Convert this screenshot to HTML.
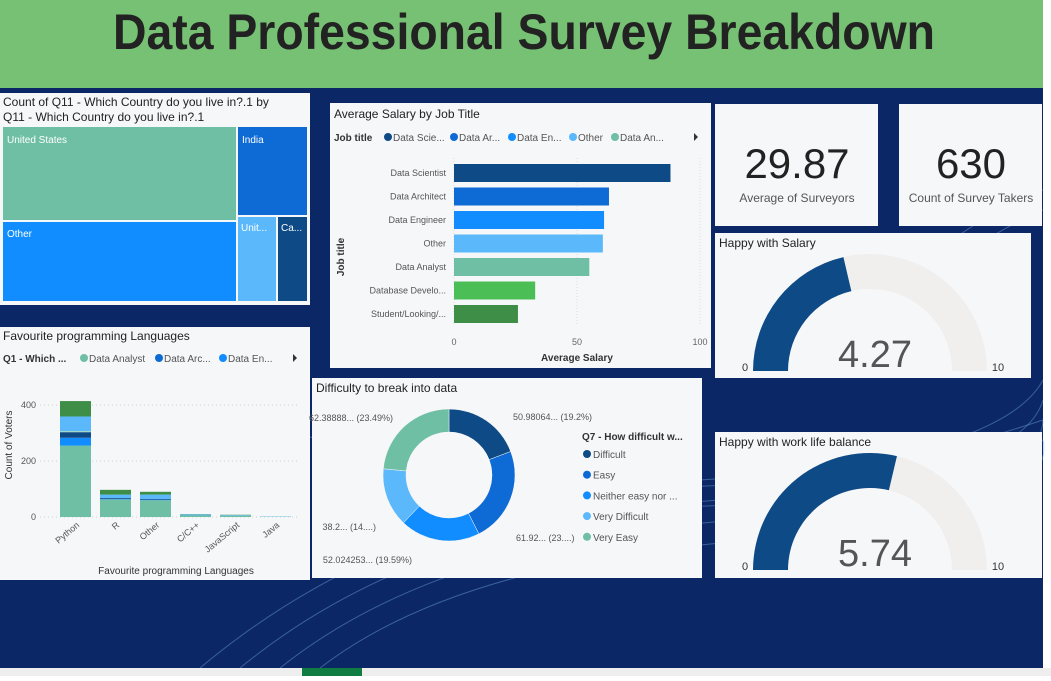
<!DOCTYPE html>
<html><head><meta charset="utf-8"><style>
body{margin:0;width:1051px;height:676px;background:#fff;overflow:hidden;font-family:"Liberation Sans",sans-serif}
</style></head><body>
<svg width="1051" height="676" viewBox="0 0 1051 676" xmlns="http://www.w3.org/2000/svg" font-family="Liberation Sans, sans-serif">
<rect x="0" y="0" width="1043" height="668" fill="#0c2766"/>
<g fill="none" stroke="#6fa8e0" stroke-opacity="0.45" stroke-width="1">
<path d="M0 330 Q300 420 520 470 T1043 420"/><path d="M0 345 Q300 440 520 490 T1043 440"/>
<path d="M200 668 Q400 500 700 480 T1043 380"/><path d="M240 668 Q420 520 720 500 T1043 400"/>
<path d="M280 668 Q440 540 740 520 T1043 420"/><path d="M320 668 Q460 560 760 540 T1043 440"/>
<path d="M860 320 Q960 220 1043 190"/><path d="M870 330 Q970 240 1043 210"/>
</g>
<rect x="0" y="668" width="1051" height="8" fill="#eee"/>
<rect x="302" y="668" width="60" height="8" fill="#107c41"/>
<rect x="0" y="0" width="1043" height="88" fill="#77c174"/>
<text x="113" y="49" textLength="822" lengthAdjust="spacingAndGlyphs" font-size="50" font-weight="bold" fill="#222">Data Professional Survey Breakdown</text>

<!-- Treemap -->
<g>
<rect x="0" y="93" width="310" height="212" fill="#f6f7f9"/>
<text x="3" y="106" font-size="12" fill="#222"><tspan x="3">Count of Q11 - Which Country do you live in?.1 by</tspan><tspan x="3" dy="15">Q11 - Which Country do you live in?.1</tspan></text>
<rect x="3" y="127" width="233" height="93" fill="#6fbfa5"/>
<rect x="3" y="222" width="233" height="79" fill="#118dff"/>
<rect x="238" y="127" width="69" height="88" fill="#0e6ad4"/>
<rect x="238" y="217" width="38" height="84" fill="#5ab8fb"/>
<rect x="278" y="217" width="29" height="84" fill="#0e4a86"/>
<g font-size="10" fill="#fff"><text x="7" y="143">United States</text><text x="7" y="237">Other</text><text x="242" y="143">India</text><text x="241" y="231">Unit...</text><text x="281" y="231">Ca...</text></g>
</g>

<!-- Bar chart -->
<g>
<rect x="330" y="103" width="381" height="265" fill="#f6f7f9"/>
<text x="334" y="118" font-size="12" fill="#222">Average Salary by Job Title</text>
<text x="334" y="141" font-size="10" font-weight="bold" fill="#333">Job title</text>
<g font-size="10" fill="#555">
<circle cx="388" cy="137" r="4" fill="#0e4a86"/><text x="393" y="141">Data Scie...</text>
<circle cx="454" cy="137" r="4" fill="#0e6ad4"/><text x="459" y="141">Data Ar...</text>
<circle cx="512" cy="137" r="4" fill="#118dff"/><text x="517" y="141">Data En...</text>
<circle cx="573" cy="137" r="4" fill="#5ab8fb"/><text x="578" y="141">Other</text>
<circle cx="615" cy="137" r="4" fill="#6fbfa5"/><text x="620" y="141">Data An...</text>
<path d="M694 133 l4 4 -4 4z" fill="#333"/></g>
<text transform="translate(344,257) rotate(-90)" font-size="10" font-weight="bold" fill="#333" text-anchor="middle">Job title</text>
<text x="577" y="361" font-size="10" font-weight="bold" fill="#333" text-anchor="middle">Average Salary</text>
<g id="barg"></g>
</g>

<!-- KPIs -->
<rect x="715" y="104" width="163" height="122" fill="#f6f7f9"/>
<text x="797" y="178" font-size="42" fill="#222" text-anchor="middle">29.87</text>
<text x="797" y="202" font-size="12" fill="#555" text-anchor="middle">Average of Surveyors</text>
<rect x="899" y="104" width="143" height="122" fill="#f6f7f9"/>
<text x="971" y="178" font-size="42" fill="#222" text-anchor="middle">630</text>
<text x="971" y="202" font-size="12" fill="#555" text-anchor="middle">Count of Survey Takers</text>

<!-- Gauges -->
<rect x="715" y="233" width="316" height="145" fill="#f6f7f9"/>
<text x="719" y="247" font-size="12" fill="#222">Happy with Salary</text>
<g id="g1"></g>
<rect x="715" y="432" width="327" height="146" fill="#f6f7f9"/>
<text x="719" y="446" font-size="12" fill="#222">Happy with work life balance</text>
<g id="g2"></g>

<!-- Column chart -->
<g>
<rect x="0" y="327" width="310" height="253" fill="#f6f7f9"/>
<text x="3" y="340" font-size="12" fill="#222">Favourite programming Languages</text>
<g font-size="10" fill="#555">
<text x="3" y="362" font-weight="bold" fill="#333">Q1 - Which ...</text>
<circle cx="84" cy="358" r="4" fill="#6fbfa5"/><text x="89" y="362">Data Analyst</text>
<circle cx="159" cy="358" r="4" fill="#0e6ad4"/><text x="164" y="362">Data Arc...</text>
<circle cx="223" cy="358" r="4" fill="#118dff"/><text x="228" y="362">Data En...</text>
<path d="M293 354 l4 4 -4 4z" fill="#333"/></g>
<text transform="translate(12,445) rotate(-90)" font-size="10" fill="#333" text-anchor="middle">Count of Voters</text>
<text x="176" y="574" font-size="10" fill="#333" text-anchor="middle">Favourite programming Languages</text>
<g id="colg"></g>
</g>

<!-- Donut -->
<g>
<rect x="312" y="378" width="390" height="200" fill="#f6f7f9"/>
<text x="316" y="392" font-size="12" fill="#222">Difficulty to break into data</text>
<text x="582" y="440" font-size="10" font-weight="bold" fill="#333">Q7 - How difficult w...</text>
<g id="dong"></g>
</g>
</svg>
<script>
const NS="http://www.w3.org/2000/svg";
function mk(p,t,a){const e=document.createElementNS(NS,t);for(const k in a)e.setAttribute(k,a[k]);p.appendChild(e);return e;}
// Salary bar data
const jobTitles=["Data Scientist","Data Architect","Data Engineer","Other","Data Analyst","Database Develo...","Student/Looking/..."];
const salaryValues=[88,63,61,60.5,55,33,26];
const jobColors=["#0e4a86","#0e6ad4","#118dff","#5ab8fb","#6fbfa5","#4bbf55","#3e8e47"];
const salaryTicks=[0,50,100];
// Language data
const languages=["Python","R","Other","C/C++","JavaScript","Java"];
const langSeries=["Data Analyst","Data Engineer","Data Architect","Other","Data Scientist","Student"];
const langColors=["#6fbfa5","#118dff","#0e4a86","#a0d8c6","#5ab8fb","#3e8e47"];
const langValues=[[255,63,60,6,5,1],[28,2,2,1,1,0],[20,3,3,0,0,0],[4,0,0,0,0,0],[52,12,15,2,1,1],[55,17,10,1,1,0]];
const countTicks=[0,200,400];
// Donut data
const diffLabels=["Difficult","Easy","Neither easy nor ...","Very Difficult","Very Easy"];
const diffValues=[50.98,61.92,52.02,38.2,62.39];
const diffText=["50.98064... (19.2%)","61.92... (23....)","52.024253... (19.59%)","38.2... (14....)","62.38888... (23.49%)"];
const diffColors=["#0e4a86","#0e6ad4","#118dff","#5ab8fb","#6fbfa5"];
// Gauges
const gaugeValues=[4.27,5.74];
const gaugeMax=10;

// Bar chart
(function(){const g=document.getElementById('barg');
const x=v=>454+v*2.46, y=i=>173+i*23.5;
salaryTicks.forEach(t=>{mk(g,'line',{x1:x(t),x2:x(t),y1:158,y2:326,stroke:'#ddd','stroke-dasharray':'1,2'});
const tx=mk(g,'text',{x:x(t),y:345,'font-size':9,fill:'#666','text-anchor':'middle'});tx.textContent=t;});
jobTitles.forEach((n,i)=>{const r=mk(g,'rect',{x:x(0),y:y(i)-9,width:x(salaryValues[i])-x(0),height:18,fill:jobColors[i]});


const t=mk(g,'text',{x:446,y:y(i)+3,'font-size':9,fill:'#555','text-anchor':'end'});t.textContent=n;});})();

// Column chart
(function(){const g=document.getElementById('colg');
const y=v=>517-v*0.28, x=i=>60+i*40;
countTicks.forEach(t=>{mk(g,'line',{x1:40,x2:300,y1:y(t),y2:y(t),stroke:'#ccc','stroke-dasharray':'1,3'});
const tx=mk(g,'text',{x:36,y:y(t)+3,'font-size':9,fill:'#555','text-anchor':'end'});tx.textContent=t;});
languages.forEach((l,i)=>{let acc=0;langSeries.forEach((s,j)=>{const v=langValues[j][i];if(!v)return;
const r=mk(g,'rect',{x:x(i),y:y(acc+v),width:31,height:y(acc)-y(acc+v),fill:langColors[j]});

acc+=v;});
const t=mk(g,'text',{transform:`translate(${x(i)+20},${526}) rotate(-40)`,'font-size':9,fill:'#555','text-anchor':'end'});t.textContent=l;});})();

// Donut
(function(){const g=document.getElementById('dong');const cx=449,cy=475,R=66,r=43;
const tot=diffValues.reduce((a,b)=>a+b,0);let a=-Math.PI/2;
const lp=[[513,420,'start'],[516,541,'start'],[412,563,'end'],[376,530,'end'],[393,421,'end']];
diffValues.forEach((v,i)=>{const b=a+v/tot*2*Math.PI;const p=(ang,rr)=>[cx+rr*Math.cos(ang),cy+rr*Math.sin(ang)];
const [x1,y1]=p(a,R),[x2,y2]=p(b,R),[x3,y3]=p(b,r),[x4,y4]=p(a,r);const lg=b-a>Math.PI?1:0;
const s=mk(g,'path',{d:`M${x1} ${y1}A${R} ${R} 0 ${lg} 1 ${x2} ${y2}L${x3} ${y3}A${r} ${r} 0 ${lg} 0 ${x4} ${y4}Z`,fill:diffColors[i],stroke:'#f6f7f9','stroke-width':0.5});


const t=mk(g,'text',{x:lp[i][0],y:lp[i][1],'font-size':9,fill:'#555','text-anchor':lp[i][2]});t.textContent=diffText[i];
mk(g,'circle',{cx:587,cy:454+i*20.7,r:4,fill:diffColors[i]});
const lt=mk(g,'text',{x:593,y:458+i*20.7,'font-size':10,fill:'#555'});lt.textContent=diffLabels[i];
a=b;});})();

// Gauges
function gauge(id,v,cx,cy){const g=document.getElementById(id);const R=117,r=82;
const arc=(a0,a1,col)=>{const p=(ang,rr)=>[cx-rr*Math.cos(ang),cy-rr*Math.sin(ang)];
const [x1,y1]=p(a0,R),[x2,y2]=p(a1,R),[x3,y3]=p(a1,r),[x4,y4]=p(a0,r);
return mk(g,'path',{d:`M${x1} ${y1}A${R} ${R} 0 0 1 ${x2} ${y2}L${x3} ${y3}A${r} ${r} 0 0 0 ${x4} ${y4}Z`,fill:col});};
const f=v/gaugeMax*Math.PI;arc(f,Math.PI,'#f1efed');const s=arc(0,f,'#0e4a86');


const t=mk(g,'text',{x:cx+5,y:cy-4,'font-size':38,fill:'#555','text-anchor':'middle'});t.textContent=v.toFixed(2);
const t0=mk(g,'text',{x:cx-125,y:cy,'font-size':11,fill:'#333','text-anchor':'middle'});t0.textContent='0';
const t1=mk(g,'text',{x:cx+128,y:cy,'font-size':11,fill:'#333','text-anchor':'middle'});t1.textContent=gaugeMax;}
gauge('g1',gaugeValues[0],870,371);
gauge('g2',gaugeValues[1],870,570);
</script>
</body></html>
